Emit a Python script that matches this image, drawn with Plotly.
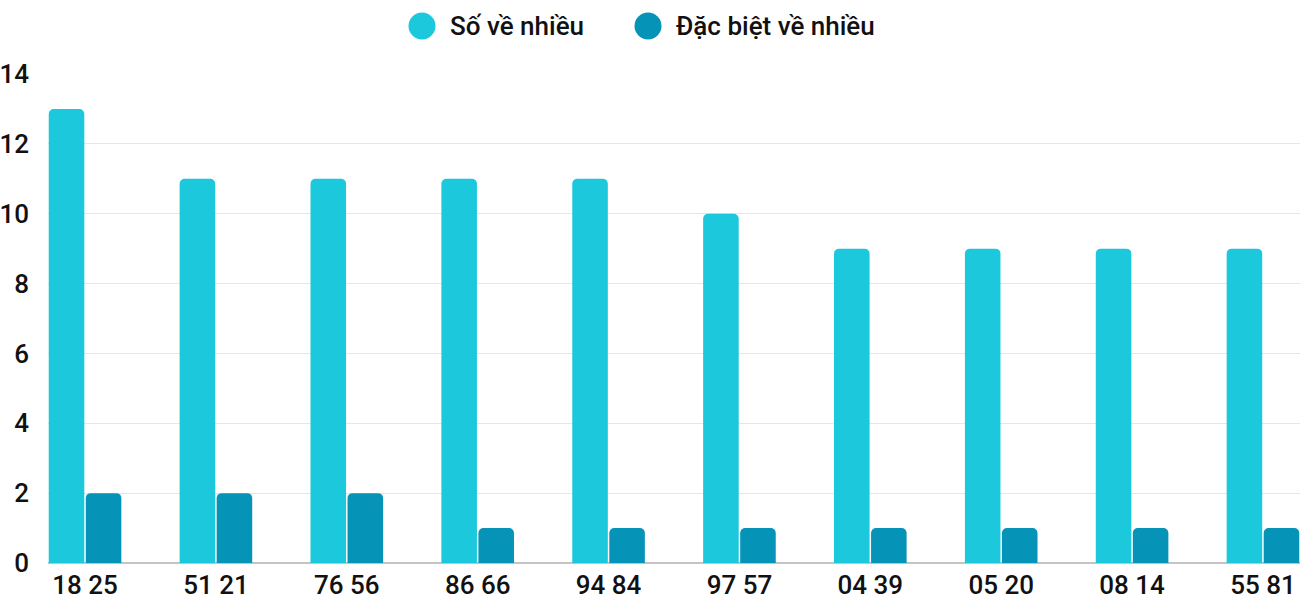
import plotly.graph_objects as go

categories = ["18 25", "51 21", "76 56", "86 66", "94 84", "97 57", "04 39", "05 20", "08 14", "55 81"]
so_ve_nhieu = [13, 11, 11, 11, 11, 10, 9, 9, 9, 9]
dac_biet = [2, 2, 2, 1, 1, 1, 1, 1, 1, 1]
series_names = ["Số về nhiều", "Đặc biệt về nhiều"]
colors = ["#1bc8dc", "#0593b7"]
y_ticks = [0, 2, 4, 6, 8, 10, 12, 14]

FONT = "Roboto"
FS = 26
TXT = "#111111"

fig = go.Figure()
fig.add_trace(go.Bar(x=categories, y=so_ve_nhieu, name=series_names[0],
                     marker=dict(color=colors[0], line=dict(width=0)), showlegend=False))
fig.add_trace(go.Bar(x=categories, y=dac_biet, name=series_names[1],
                     marker=dict(color=colors[1], line=dict(width=0)), showlegend=False))

# manual legend with circle markers
legend_items = [(series_names[0], colors[0], 422, 448), (series_names[1], colors[1], 648, 674)]
shapes = []
annotations = []
for name, col, cx, tx in legend_items:
    shapes.append(dict(type="circle", xref="paper", yref="paper", xsizemode="pixel", ysizemode="pixel",
                       xanchor=(cx - 48) / 1252, yanchor=1 + (74 - 26) / 489,
                       x0=-13.5, x1=13.5, y0=-13.5, y1=13.5,
                       fillcolor=col, line=dict(width=0)))
    annotations.append(dict(text=name, xref="paper", yref="paper",
                            x=(tx - 48) / 1252, y=1 + (74 - 26) / 489,
                            xanchor="left", yanchor="middle", showarrow=False,
                            font=dict(family=FONT, size=FS, color=TXT, weight=500)))

fig.update_layout(
    width=1300, height=600,
    margin=dict(l=48, r=0, t=74, b=37),
    paper_bgcolor="white", plot_bgcolor="white",
    barmode="group", bargap=0.434, bargroupgap=0.04,
    barcornerradius=5,
    font=dict(family=FONT, size=FS, color=TXT),
    shapes=shapes, annotations=annotations,
    xaxis=dict(range=[-0.283, 9.283], showgrid=False, showline=False, zeroline=False,
               tickfont=dict(family=FONT, size=FS, color=TXT, weight=500), ticks="",
               ticklabelstandoff=4),
    yaxis=dict(range=[0, 14], tickvals=y_ticks, showgrid=True, gridcolor="#e6e6e6", gridwidth=1,
               zeroline=True, zerolinecolor="#c4c4c4", zerolinewidth=1.5, showline=False,
               tickfont=dict(family=FONT, size=FS, color=TXT, weight=500), ticks="",
               ticklabelstandoff=18),
)

fig.write_html("out.html")
